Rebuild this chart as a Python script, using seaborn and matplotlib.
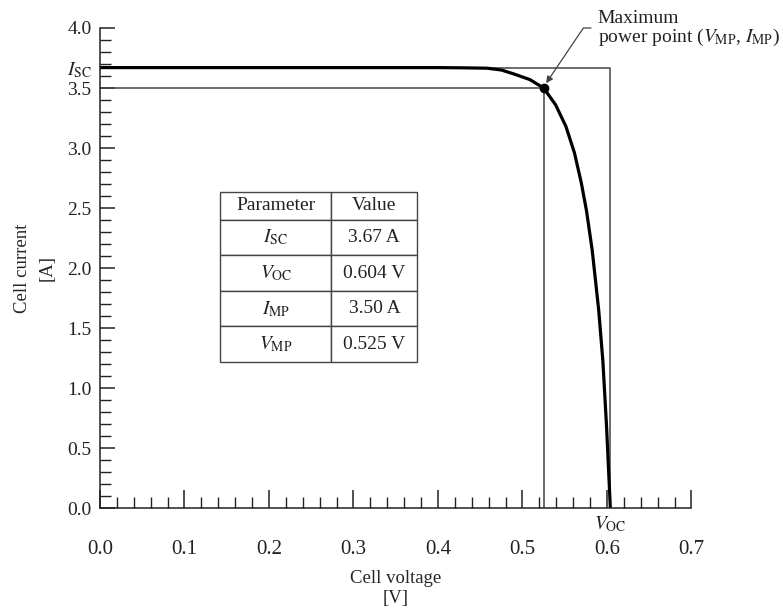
import pandas as pd
import matplotlib
matplotlib.use('Agg')
import matplotlib.pyplot as plt
import seaborn as sns

# I-V curve
voltage = [0.0, 0.2, 0.4, 0.43, 0.458, 0.475, 0.4885, 0.5088, 0.525, 0.5392, 0.5514,
           0.5615, 0.5696, 0.5757, 0.5825, 0.5902, 0.5951, 0.5995, 0.6028, 0.604]
current = [3.67, 3.67, 3.67, 3.668, 3.665, 3.65, 3.62, 3.57, 3.50, 3.36, 3.18,
           2.96, 2.71, 2.48, 2.15, 1.65, 1.23, 0.68, 0.18, 0.0]

# cell parameters
i_sc = 3.67
v_oc = 0.604
i_mp = 3.50
v_mp = 0.525

param_names = [r'$I_{\rm SC}$', r'$V_{\rm OC}$', r'$I_{\rm MP}$', r'$V_{\rm MP}$']
param_values = ['3.67 A', '0.604 V', '3.50 A', '0.525 V']

x_ticks = [0.0, 0.1, 0.2, 0.3, 0.4, 0.5, 0.6, 0.7]
y_ticks = [0.0, 0.5, 1.0, 1.5, 2.0, 2.5, 3.0, 3.5, 4.0]

sns.set_style('ticks')
plt.rcParams['font.family'] = ['Liberation Serif', 'DejaVu Serif']
plt.rcParams['mathtext.fontset'] = 'stix'
plt.rcParams['text.color'] = '#222222'

iv_df = pd.DataFrame({'V': voltage, 'I': current})

fig = plt.figure(figsize=(7.83, 6.10), dpi=100)
ax = fig.add_axes([0.1277, 0.1672, 0.7554, 0.7869])

# the two rectangles (Isc x Voc and Imp x Vmp)
ax.plot([0, v_oc, v_oc], [i_sc, i_sc, 0], color='#444444', lw=1.1)
ax.plot([0, v_mp, v_mp], [i_mp, i_mp, 0], color='#444444', lw=1.1)

sns.lineplot(data=iv_df, x='V', y='I', sort=False, color='black', lw=2.3, ax=ax)
ax.plot([v_mp], [i_mp], 'o', color='black', ms=6)

ax.set_xlim(0, 0.7)
ax.set_ylim(0, 4.0)

ax.set_xticks(x_ticks)
ax.set_xticklabels([f'{t:.1f}' for t in x_ticks])
ax.set_xticks([i * 0.02 for i in range(36)], minor=True)
yt = y_ticks + [i_sc]
ax.set_yticks(yt)
ax.set_yticklabels([f'{t:.1f}' for t in y_ticks] + [r'$I_{\rm SC}$'])
ax.set_yticks([i * 0.1 for i in range(41)], minor=True)

ax.tick_params(axis='both', which='both', direction='in', colors='#222222')
ax.tick_params(axis='x', which='major', length=13, width=1.1, pad=23, labelsize=15)
ax.tick_params(axis='x', which='minor', length=8, width=1.0)
ax.tick_params(axis='y', which='major', length=11, width=1.1, pad=6, labelsize=14)
ax.tick_params(axis='y', which='minor', length=8, width=1.0)
sns.despine(ax=ax)
for s in ['left', 'bottom']:
    ax.spines[s].set_linewidth(1.1)
    ax.spines[s].set_color('#222222')

ax.text(v_oc, -0.05, r'$V_{\rm OC}$', ha='center', va='top', fontsize=14)

ax.set_xlabel('Cell voltage\n[V]', fontsize=13.5, labelpad=8, linespacing=1.25)
ax.set_ylabel('Cell current\n[A]', fontsize=13.5, labelpad=8, linespacing=1.6)

# annotation for the maximum power point
ax.annotate('', xy=(v_mp + 0.003, i_mp + 0.04), xytext=(0.581, 4.0),
            annotation_clip=False,
            arrowprops=dict(arrowstyle='-|>', color='#444444', lw=0.9, mutation_scale=10,
                            connectionstyle='angle,angleA=0,angleB=56,rad=0',
                            shrinkA=0, shrinkB=0))
ax.text(0.589, 4.15, 'Maximum\npower point ($V_{\\rm MP}$, $I_{\\rm MP}$)',
        ha='left', va='top', fontsize=14, linespacing=1.0)

# parameter table
tbl = ax.table(cellText=[[n, v] for n, v in zip(param_names, param_values)],
               colLabels=['Parameter', 'Value'], cellLoc='center',
               colWidths=[111, 86], bbox=[0.2034, 0.304, 0.3333, 0.354])
tbl.auto_set_font_size(False)
tbl.set_fontsize(14)
for (r, c), cell in tbl.get_celld().items():
    cell.set_edgecolor('#444444')
    cell.set_linewidth(1.0)
    cell.set_height(27 if r == 0 else 35)

fig.savefig('out.png', dpi=100)
